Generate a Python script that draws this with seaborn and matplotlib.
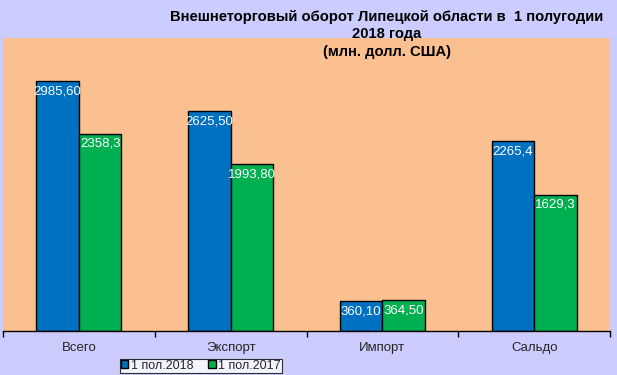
import matplotlib
matplotlib.use("Agg")
import matplotlib.pyplot as plt
import seaborn as sns
import pandas as pd
from matplotlib.patches import Patch

categories = ["Всего", "Экспорт", "Импорт", "Сальдо"]
series = ["1 пол.2018", "1 пол.2017"]
values_2018 = [2985.60, 2625.50, 360.10, 2265.4]
values_2017 = [2358.3, 1993.80, 364.50, 1629.3]
labels_2018 = ["2985,60", "2625,50", "360,10", "2265,4"]
labels_2017 = ["2358,3", "1993,80", "364,50", "1629,3"]
title_lines = ["Внешнеторговый оборот Липецкой области в  1 полугодии",
               "2018 года", "(млн. долл. США)"]
colors = ["#0070C0", "#00B050"]

df = pd.DataFrame({
    "cat": categories * 2,
    "series": [series[0]] * 4 + [series[1]] * 4,
    "val": values_2018 + values_2017,
})

sns.set_theme(style="white")
plt.rcParams["font.family"] = ["Liberation Sans", "DejaVu Sans"]

fig = plt.figure(figsize=(6.17, 3.75), dpi=100)
fig.patch.set_facecolor("#CCCCFF")
ax = fig.add_axes([3 / 617, 44 / 375, 607 / 617, 293 / 375])
ax.set_facecolor("#FAC090")

sns.barplot(data=df, x="cat", y="val", hue="series", order=categories,
            hue_order=series, palette=colors, width=0.56, gap=0,
            edgecolor="black", linewidth=1, saturation=1, ax=ax, legend=False)

ax.set_ylim(0, 3500)
ax.set_xlim(-0.5, 3.5)
ax.set_xlabel("")
ax.set_ylabel("")
ax.set_yticks([])
for s in ["top", "right", "left"]:
    ax.spines[s].set_visible(False)
ax.spines["bottom"].set_color("black")
ax.spines["bottom"].set_linewidth(1)

ax.set_xticks(range(len(categories)))
ax.set_xticklabels(categories, fontsize=9.5)
ax.tick_params(axis="x", which="major", length=0, pad=8)
ax.set_xticks([-0.5, 0.5, 1.5, 2.5, 3.5], minor=True)
ax.tick_params(axis="x", which="minor", length=4, width=1, color="black",
               direction="out", bottom=True)

# value labels inside top of each bar
patches = [p for p in ax.patches if p.get_height() > 0]
patches = sorted(patches, key=lambda p: p.get_x())
all_labels = []
for i in range(len(categories)):
    all_labels += [labels_2018[i], labels_2017[i]]
for p, lab in zip(patches, all_labels):
    ax.annotate(lab, (p.get_x() + p.get_width() / 2, p.get_height()),
                xytext=(0, -3), textcoords="offset points",
                ha="center", va="top", color="white", fontsize=9.5)

for y, line in zip([17, 34, 52], title_lines):
    fig.text(387 / 617, 1 - y / 375, line, ha="center", va="center",
             fontsize=10.6, fontweight="bold", color="black")

handles = [Patch(facecolor=c, edgecolor="black", label=s) for c, s in zip(colors, series)]
leg = fig.legend(handles=handles, loc="lower center", bbox_to_anchor=(201 / 617, 2 / 375),
                 ncol=2, fontsize=9, frameon=True, fancybox=False, handlelength=0.6,
                 handleheight=0.6, handletextpad=0.2, columnspacing=1.2,
                 borderpad=0.1, borderaxespad=0)
leg.get_frame().set_edgecolor("black")
leg.get_frame().set_facecolor("white")
leg.get_frame().set_linewidth(0.8)

fig.savefig("out.png", dpi=100, facecolor=fig.get_facecolor())
